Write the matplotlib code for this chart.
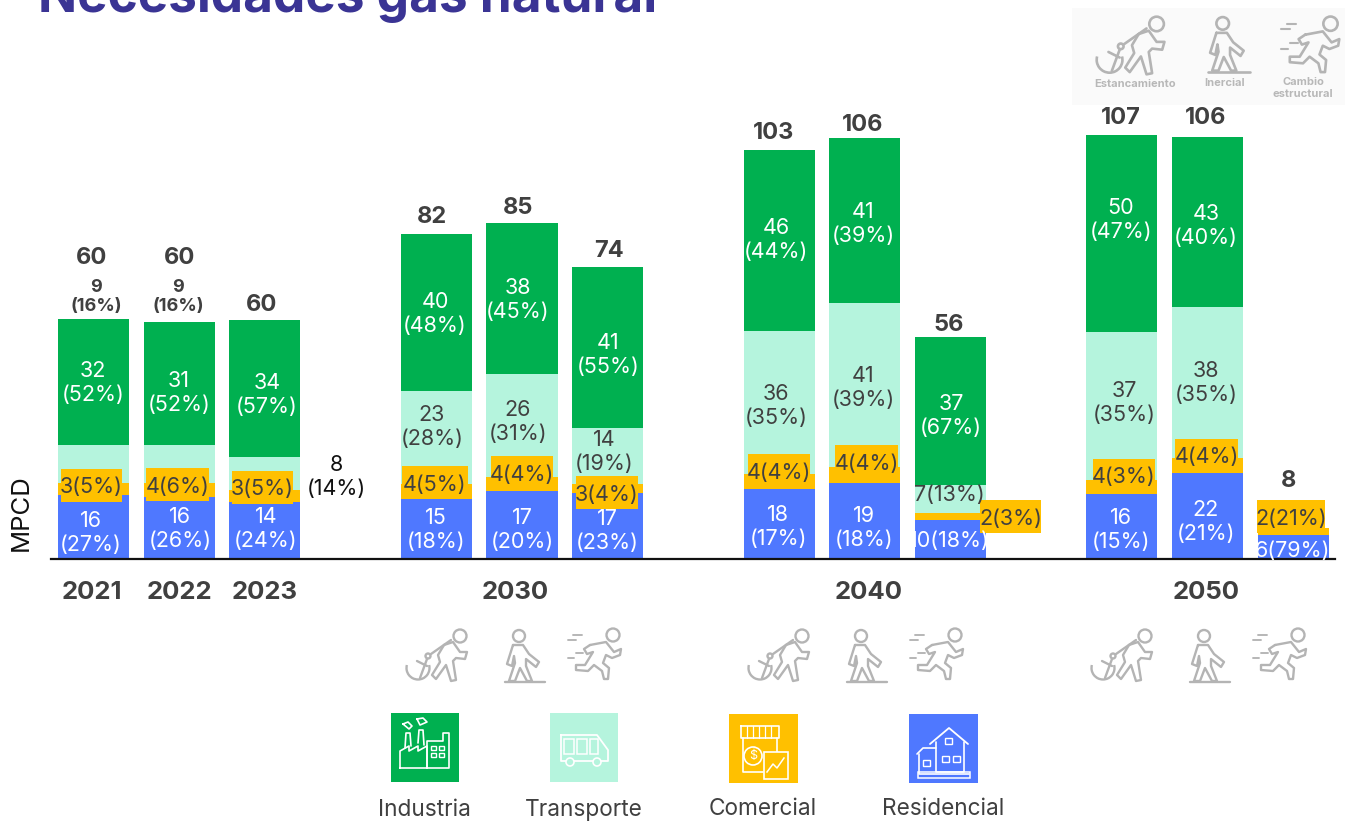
import matplotlib
matplotlib.use('Agg')
import matplotlib.pyplot as plt
from matplotlib.patches import Circle, Rectangle, Arc

plt.rcParams['font.family'] = ['Inter', 'DejaVu Sans']

W, H = 1347, 821

# Data (MPCD)
slots = [0, 1, 2, 4, 5, 6, 8, 9, 10, 12, 13, 14]
residencial = [16, 15.5, 14.25, 15, 17, 16.5, 17.5, 19, 9.75, 16.25, 21.5, 6]
comercial = [3, 3.5, 3, 3.75, 3.5, 2.25, 3.75, 4, 1.75, 3.5, 3.75, 1.75]
transporte = [9.5, 9.5, 8.25, 23.25, 25.75, 14, 35.75, 41, 7, 37, 37.75, 0]
industria = [31.5, 30.75, 34.25, 39.25, 37.75, 40.25, 45.25, 41.25, 37, 49.25, 42.5, 0]

totales = ['60', '60', '60', '82', '85', '74', '103', '106', '56', '107', '106', '8']
lab_res = ['16\n(27%)', '16\n(26%)', '14\n(24%)', '15\n(18%)', '17\n(20%)', '17\n(23%)',
           '18\n(17%)', '19\n(18%)', '10(18%)', '16\n(15%)', '22\n(21%)', '6(79%)']
lab_com = ['3(5%)', '4(6%)', '3(5%)', '4(5%)', '4(4%)', '3(4%)',
           '4(4%)', '4(4%)', '2(3%)', '4(3%)', '4(4%)', '2(21%)']
lab_tra = ['9\n(16%)', '9\n(16%)', '8\n(14%)', '23\n(28%)', '26\n(31%)', '14\n(19%)',
           '36\n(35%)', '41\n(39%)', '7(13%)', '37\n(35%)', '38\n(35%)']
lab_ind = ['32\n(52%)', '31\n(52%)', '34\n(57%)', '40\n(48%)', '38\n(45%)', '41\n(55%)',
           '46\n(44%)', '41\n(39%)', '37\n(67%)', '50\n(47%)', '43\n(40%)']
years = ['2021', '2022', '2023', '2030', '2040', '2050']
year_slots = [-0.02, 1.0, 2.0, 4.92, 9.05, 12.98]
categorias = ['Industria', 'Transporte', 'Comercial', 'Residencial']

# Colours
VERDE = '#00B050'
MENTA = '#B5F4DD'
NARANJA = '#FFC000'
AZUL = '#4F78FF'
OSCURO = '#404040'
GRIS = '#B4B4B4'

# Label centres in pixels
pos_tot = [(92, 258), (180, 258), (262, 305), (432, 217), (518, 208), (609, 251),
           (774, 133), (863, 125), (949, 325), (1121, 118), (1206, 118), (1289, 481)]
pos_res = [(91, 533), (180, 529), (266, 529), (436, 530), (522, 530), (607, 531),
           (778, 527), (864, 528), (949, 541), (1121, 530), (1206, 522), (1292, 551)]
pos_com = [(91.5, 485.5), (177.5, 484.5), (262.5, 487.5), (435, 483), (522, 472.5), (607, 492.5),
           (779, 471), (866.5, 462), (1010.5, 516.5), (1124, 475.5), (1206.5, 455.5), (1291, 516.5)]
ancho_com = [61, 63, 61, 66, 62, 62, 62, 63, 61, 62, 63, 68]
pos_tra = [(96, 297), (178, 297), (336, 477), (432, 427), (518, 422), (604, 452),
           (776, 406), (863, 388), (949, 495), (1124, 403), (1206, 383)]
pos_ind = [(93, 383), (179, 393), (267, 395), (435, 314), (518, 300), (608, 355),
           (776, 240), (863, 224), (951, 416), (1121, 220), (1206, 226)]

fig = plt.figure(figsize=(W / 100, H / 100), dpi=100)

# Bars: x 51..1335 px, baseline at 559 px, 4 px per MPCD
left, right, base, top = 51, 1335, 559, 100
ax = fig.add_axes([left / W, 1 - base / H, (right - left) / W, (base - top) / H])
ax.set_xlim((left - 93.5) / 85.7, (right - 93.5) / 85.7)
ax.set_ylim(0, (base - top) / 4)
bottom = [0] * len(slots)
for vals, col in [(residencial, AZUL), (comercial, NARANJA), (transporte, MENTA), (industria, VERDE)]:
    ax.bar(slots, vals, width=0.83, bottom=bottom, color=col, linewidth=0)
    bottom = [b + v for b, v in zip(bottom, vals)]

for s in ['top', 'left', 'right']:
    ax.spines[s].set_visible(False)
ax.spines['bottom'].set_linewidth(1.6)
ax.spines['bottom'].set_color('#111111')
ax.set_yticks([])
ax.set_xticks(year_slots, years, fontsize=18.5, fontweight='bold', color=OSCURO)
ax.tick_params(axis='x', length=0, pad=15.5)
ax.set_ylabel('MPCD', fontsize=18.5, color='#111111')
ax.yaxis.set_label_coords((33 - left) / (right - left), (base - 513) / (base - top))

# Overlay in pixel coordinates for labels and icons
ov = fig.add_axes([0, 0, 1, 1], zorder=5)
ov.set_xlim(0, W)
ov.set_ylim(H, 0)
ov.axis('off')

FS = 15.5
LS = 1.2
for t, (x, y) in zip(totales, pos_tot):
    ov.text(x, y, t, ha='center', va='center', fontsize=17, fontweight='bold', color=OSCURO)
for t, (x, y) in zip(lab_res, pos_res):
    ov.text(x, y, t, ha='center', va='center', fontsize=FS, color='white', linespacing=LS)
for t, (x, y) in zip(lab_ind, pos_ind):
    ov.text(x, y, t, ha='center', va='center', fontsize=FS, color='white', linespacing=LS)
for i, (t, (x, y)) in enumerate(zip(lab_tra, pos_tra)):
    if i < 2:
        ov.text(x, y, t, ha='center', va='center', fontsize=13, fontweight='bold', color=OSCURO, linespacing=1.1)
    elif i == 2:
        ov.text(x, y, t, ha='center', va='center', fontsize=FS, color='#111111', linespacing=LS)
    else:
        ov.text(x, y, t, ha='center', va='center', fontsize=FS, color=OSCURO, linespacing=LS)
for t, (x, y), w in zip(lab_com, pos_com, ancho_com):
    ov.add_patch(Rectangle((x - w / 2, y - 16.5), w, 33, fc=NARANJA, ec='none'))
    ov.text(x, y + 2, t, ha='center', va='center', fontsize=FS, color=OSCURO)

# Title, cut by the top edge as in the reference
ov.text(38, 12, 'Necesidades gas natural', ha='left', va='baseline', fontsize=37,
        fontweight='bold', color='#3A3494', clip_on=False)


def line(x0, y0, s, pts, col=GRIS, lw=1.7):
    ov.plot([x0 + p[0] * s for p in pts], [y0 + p[1] * s for p in pts], color=col, lw=lw,
            solid_capstyle='round', solid_joinstyle='round')


def head(x0, y0, s, cx, cy, r, col=GRIS, lw=1.7):
    ov.add_patch(Circle((x0 + cx * s, y0 + cy * s), r * s, fc='none', ec=col, lw=lw))


def anchor_man(x0, y0, s=1.0, lw=1.7):
    head(x0, y0, s, 55, 8, 6.5, lw=lw)
    line(x0, y0, s, [(46, 12), (26, 26)], lw=lw)
    head(x0, y0, s, 23, 28, 2.5, lw=lw)
    line(x0, y0, s, [(22, 31), (15, 50)], lw=lw)
    line(x0, y0, s, [(12, 33), (22, 38)], lw=lw)
    ov.add_patch(Arc((x0 + 13 * s, y0 + 40 * s), 23 * s, 23 * s, angle=0, theta1=-15, theta2=195,
                     ec=GRIS, lw=lw))
    line(x0, y0, s, [(39, 17), (48, 14), (55, 24), (62, 24), (60, 31), (51, 30), (48, 33),
                     (51, 52), (46, 53), (41, 37), (31, 51), (27, 47), (35, 34), (33, 27), (39, 17)], lw=lw)


def walker(x0, y0, s=1.0, lw=1.7):
    head(x0, y0, s, 14, 8, 6, lw=lw)
    line(x0, y0, s, [(8, 17), (18, 17), (24, 26), (34, 34), (31, 39), (21, 31), (21, 38),
                     (27, 53), (22, 53), (15, 40), (10, 53), (4, 53), (10, 35), (9, 28),
                     (7, 38), (2, 36), (8, 17)], lw=lw)
    line(x0, y0, s, [(0, 54), (40, 54)], lw=lw)


def runner(x0, y0, s=1.0, lw=1.7):
    head(x0, y0, s, 45, 7, 6.5, lw=lw)
    line(x0, y0, s, [(22, 17), (38, 14), (46, 24), (53, 21), (52, 27), (44, 30), (38, 27),
                     (35, 35), (41, 40), (40, 51), (36, 51), (34, 43), (26, 37), (20, 43),
                     (8, 42), (8, 37), (17, 37), (25, 24), (19, 26), (16, 21), (22, 17)], lw=lw)
    line(x0, y0, s, [(5, 7), (14, 7)], lw=lw * 0.8)
    line(x0, y0, s, [(0, 12), (8, 12)], lw=lw * 0.8)
    line(x0, y0, s, [(8, 25), (15, 25)], lw=lw * 0.8)
    line(x0, y0, s, [(0, 30), (6, 30)], lw=lw * 0.8)


for dx in [0, 342, 685]:
    anchor_man(405 + dx, 628)
    walker(505 + dx, 628)
    runner(568 + dx, 628)

# Scenario key, top right
ov.add_patch(Rectangle((1072, 8), 273, 97, fc='#FAFAFA', ec='none'))
anchor_man(1095, 15, 1.12, 1.9)
walker(1208, 15, 1.05, 1.9)
runner(1281, 16, 1.1, 1.9)
for x, y, t in [(1135, 84, 'Estancamiento'), (1225, 83, 'Inercial'), (1303, 88, 'Cambio\nestructural')]:
    ov.text(x, y, t, ha='center', va='center', fontsize=8, fontweight='bold', color='#B8B8B8', linespacing=1.15)


# Legend squares with white line icons
def factory(x, y):
    c = 'white'
    line(x, y, 1, [(9, 55), (9, 38), (18, 33), (18, 38), (27, 33), (27, 38), (36, 33), (36, 55), (9, 55)], c, 1.2)
    line(x, y, 1, [(14, 35), (15, 20), (19, 20), (20, 33)], c, 1.2)
    line(x, y, 1, [(27, 30), (28, 17), (32, 17), (33, 32)], c, 1.2)
    line(x, y, 1, [(36, 55), (36, 28), (52, 28), (52, 20), (58, 20), (58, 55), (36, 55)], c, 1.2)
    line(x, y, 1, [(12, 11), (17, 9), (21, 13), (18, 16), (12, 11)], c, 1.2)
    line(x, y, 1, [(26, 6), (32, 5), (36, 9), (29, 12), (26, 6)], c, 1.2)
    for a in [40, 48]:
        for b in [33, 40]:
            ov.add_patch(Rectangle((x + a, y + b), 5, 4, fc='none', ec=c, lw=1.0))


def bus(x, y):
    c = 'white'
    line(x, y, 1, [(11, 22), (47, 22), (58, 37), (58, 48), (11, 48), (11, 22)], c, 1.3)
    for a, w in [(14, 10), (27, 10), (40, 8)]:
        ov.add_patch(Rectangle((x + a, y + 26), w, 15, fc='none', ec=c, lw=1.1))
    for a in [20, 47]:
        ov.add_patch(Circle((x + a, y + 49), 4, fc=MENTA, ec=c, lw=1.2, zorder=4))


def shop(x, y):
    c = 'white'
    line(x, y, 1, [(12, 12), (50, 12), (50, 24), (12, 24), (12, 12)], c, 1.2)
    for a in [18, 24, 30, 36, 42]:
        line(x, y, 1, [(a, 12), (a, 24)], c, 0.9)
    line(x, y, 1, [(14, 24), (14, 58), (34, 58)], c, 1.2)
    line(x, y, 1, [(48, 24), (48, 38)], c, 1.2)
    ov.add_patch(Circle((x + 24, y + 42), 9, fc=NARANJA, ec=c, lw=1.2, zorder=4))
    ov.text(x + 24, y + 42, '$', color=c, fontsize=9, ha='center', va='center', zorder=5)
    ov.add_patch(Rectangle((x + 35, y + 38), 24, 27, fc=NARANJA, ec=c, lw=1.2, zorder=4))
    ov.plot([x + 38, x + 44, x + 48, x + 55], [y + 58, y + 50, y + 54, y + 44], color=c, lw=1.1, zorder=5)


def house(x, y):
    c = 'white'
    line(x, y, 1, [(21, 30), (40, 14), (59, 30)], c, 1.3)
    line(x, y, 1, [(27, 28), (27, 58), (55, 58), (55, 28)], c, 1.2)
    line(x, y, 1, [(8, 40), (14, 34), (27, 34)], c, 1.2)
    line(x, y, 1, [(10, 40), (10, 60), (60, 60)], c, 1.2)
    ov.add_patch(Rectangle((x + 9, y + 58), 52, 6, fc='none', ec=c, lw=1.1))
    for a, b in [(36, 24), (33, 42), (44, 42), (14, 46)]:
        ov.add_patch(Rectangle((x + a, y + b), 7, 6, fc='none', ec=c, lw=1.0))


legend_cols = [VERDE, MENTA, NARANJA, AZUL]
legend_boxes = [(391, 713, 68, 69), (550, 713, 68, 69), (729, 714, 69, 69), (909, 714, 69, 69)]
legend_text = [(424, 810), (584, 810), (763, 809), (943, 809)]
legend_icons = [factory, bus, shop, house]
for cat, col, box, tp, icon in zip(categorias, legend_cols, legend_boxes, legend_text, legend_icons):
    ov.add_patch(Rectangle((box[0], box[1]), box[2], box[3], fc=col, ec='none'))
    icon(box[0], box[1])
    ov.text(tp[0], tp[1], cat, ha='center', va='center', fontsize=16.3, color=OSCURO)

fig.savefig('out.png', dpi=100)
